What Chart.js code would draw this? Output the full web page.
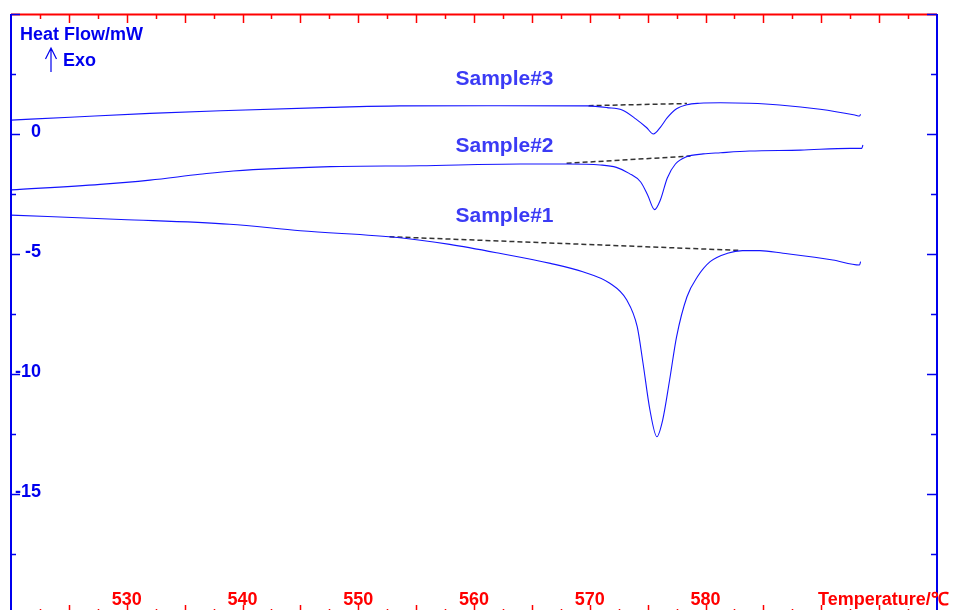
<!DOCTYPE html>
<html>
<head>
<meta charset="utf-8">
<script src="https://cdn.jsdelivr.net/npm/chart.js@4"></script>
<style>
  html, body { margin: 0; padding: 0; overflow: hidden; background: #fff; }
  #wrap { width: 953px; height: 620px; }
</style>
</head>
<body>
<div id="wrap"><canvas id="dscChart" width="953" height="620"></canvas></div>
<script>
// temperature (°C) and heat flow (mW)
const sample1Temp = [520.0, 529.5, 538.9, 545.0, 553.6, 557.9, 562.2, 566.6, 569.4, 571.7, 573.2, 574.1, 574.6, 575.2, 575.8, 576.3, 576.9, 577.5, 578.4, 579.3, 580.4, 581.9, 583.2, 584.7, 586.7, 591.0, 593.3, 593.4];
const sample1Heat = [-3.38, -3.56, -3.76, -4.03, -4.32, -4.60, -4.97, -5.39, -5.74, -6.21, -6.92, -8.03, -9.54, -11.5, -12.61, -11.92, -10.25, -8.45, -6.78, -5.95, -5.32, -4.97, -4.86, -4.86, -4.97, -5.25, -5.46, -5.32];

const sample2Temp = [520.0, 527.7, 532.0, 536.3, 539.2, 547.6, 555.3, 564.0, 568.0, 570.9, 572.3, 573.4, 574.4, 575.0, 575.6, 576.1, 576.7, 577.4, 578.3, 579.8, 581.3, 583.8, 588.2, 592.5, 593.5, 593.6];
const sample2Heat = [-2.33, -2.10, -1.92, -1.68, -1.54, -1.36, -1.32, -1.25, -1.25, -1.29, -1.39, -1.64, -2.0, -2.54, -3.15, -2.75, -1.83, -1.25, -0.96, -0.83, -0.78, -0.71, -0.67, -0.60, -0.60, -0.46];

const sample3Temp = [520.0, 525.1, 532.0, 538.1, 547.6, 553.6, 562.2, 569.8, 571.5, 572.8, 574.0, 574.9, 575.5, 576.1, 576.7, 577.5, 578.4, 579.5, 581.3, 583.8, 586.4, 589.9, 592.9, 593.3, 593.4];
const sample3Heat = [0.58, 0.70, 0.86, 0.97, 1.11, 1.17, 1.18, 1.17, 1.10, 1.0, 0.62, 0.27, 0.0, 0.28, 0.68, 1.05, 1.22, 1.28, 1.30, 1.28, 1.21, 1.03, 0.79, 0.75, 0.82];

// dashed baselines under each peak
const base1Temp = [552.7, 583.0], base1Heat = [-4.28, -4.85];
const base2Temp = [568.0, 578.7], base2Heat = [-1.22, -0.92];
const base3Temp = [569.9, 578.4], base3Heat = [1.18, 1.27];

const sampleNames = ['Sample#1', 'Sample#2', 'Sample#3'];
const nameTemp = [558.4, 558.4, 558.4];
const nameHeat = [-3.65, -0.74, 2.04];

const xTickLabels = [530, 540, 550, 560, 570, 580];
const yTickLabels = [0, -5, -10, -15];

const BLUE = '#0000ee';
const RED = '#ff0000';
const FONT = 'bold 18px "Liberation Sans", Arial, sans-serif';

function pts(t, h) {
    return t.map((v, i) => ({ x: v, y: h[i] }));
}

function curve(t, h) {
    return {
        data: pts(t, h),
        borderColor: '#1414ff',
        borderWidth: 1.1,
        pointRadius: 0,
        cubicInterpolationMode: 'monotone',
        fill: false
    };
}

function baseline(t, h) {
    return {
        data: pts(t, h),
        borderColor: '#333333',
        borderWidth: 1.5,
        borderDash: [5, 3],
        pointRadius: 0,
        fill: false
    };
}

const frame = {
    id: 'dscFrame',
    afterDraw(chart) {
        const { ctx, chartArea: a, scales: { x, y } } = chart;
        ctx.save();

        // top axis (red) with inner ticks, bottom ticks
        ctx.strokeStyle = RED;
        ctx.lineWidth = 2;
        ctx.beginPath();
        ctx.moveTo(a.left, a.top + 0.5);
        ctx.lineTo(a.right, a.top + 0.5);
        ctx.stroke();
        ctx.lineWidth = 1.5;
        for (let v = x.min + 2.5; v < x.max; v += 2.5) {
            const px = Math.round(x.getPixelForValue(v)) + 0.5;
            const len = v % 5 === 0 ? 9 : 5;
            ctx.beginPath();
            ctx.moveTo(px, a.top);
            ctx.lineTo(px, a.top + len);
            ctx.moveTo(px, a.bottom);
            ctx.lineTo(px, a.bottom - len);
            ctx.stroke();
        }

        // left & right axes (blue)
        ctx.strokeStyle = BLUE;
        ctx.lineWidth = 2;
        ctx.beginPath();
        ctx.moveTo(a.left, a.top);
        ctx.lineTo(a.left, a.bottom);
        ctx.moveTo(a.right, a.top);
        ctx.lineTo(a.right, a.bottom);
        ctx.stroke();
        ctx.lineWidth = 1.5;
        for (let v = y.max; v >= y.min; v -= 2.5) {
            const py = Math.round(y.getPixelForValue(v)) + 0.5;
            const len = v % 5 === 0 ? 9 : 5;
            ctx.beginPath();
            ctx.moveTo(a.left, py);
            ctx.lineTo(a.left + len, py);
            ctx.moveTo(a.right, py);
            ctx.lineTo(a.right - len - 1, py);
            ctx.stroke();
        }

        // tick labels
        ctx.font = FONT;
        ctx.textBaseline = 'alphabetic';
        ctx.fillStyle = BLUE;
        ctx.textAlign = 'right';
        yTickLabels.forEach(v => ctx.fillText(String(v), a.left + 30, y.getPixelForValue(v) + 3));
        ctx.fillStyle = RED;
        ctx.textAlign = 'center';
        xTickLabels.forEach(v => ctx.fillText(String(v), x.getPixelForValue(v), 605));
        ctx.textAlign = 'left';
        ctx.fillText('Temperature/\u2103', 818, 605);

        // y title and exo arrow
        ctx.fillStyle = BLUE;
        ctx.fillText('Heat Flow/mW', 20, 40);
        ctx.fillText('Exo', 63, 66);
        ctx.lineWidth = 1.2;
        ctx.beginPath();
        ctx.moveTo(51, 72);
        ctx.lineTo(51, 48);
        ctx.moveTo(45.5, 59);
        ctx.lineTo(51, 48);
        ctx.lineTo(56.5, 59);
        ctx.stroke();

        // sample names
        ctx.fillStyle = '#3b3bf5';
        ctx.font = 'bold 21px "Liberation Sans", Arial, sans-serif';
        sampleNames.forEach((n, i) => {
            ctx.fillText(n, x.getPixelForValue(nameTemp[i]), y.getPixelForValue(nameHeat[i]));
        });

        ctx.restore();
    }
};

new Chart(document.getElementById('dscChart'), {
    type: 'line',
    data: {
        datasets: [
            curve(sample1Temp, sample1Heat),
            curve(sample2Temp, sample2Heat),
            curve(sample3Temp, sample3Heat),
            baseline(base1Temp, base1Heat),
            baseline(base2Temp, base2Heat),
            baseline(base3Temp, base3Heat)
        ]
    },
    options: {
        responsive: false,
        animation: false,
        layout: { padding: { left: 11, right: 16, top: 14, bottom: 6 } },
        plugins: { legend: { display: false }, tooltip: { enabled: false } },
        scales: {
            x: { type: 'linear', min: 520, max: 600, display: false },
            y: { type: 'linear', min: -20, max: 5, display: false }
        }
    },
    plugins: [frame]
});
</script>
</body>
</html>
